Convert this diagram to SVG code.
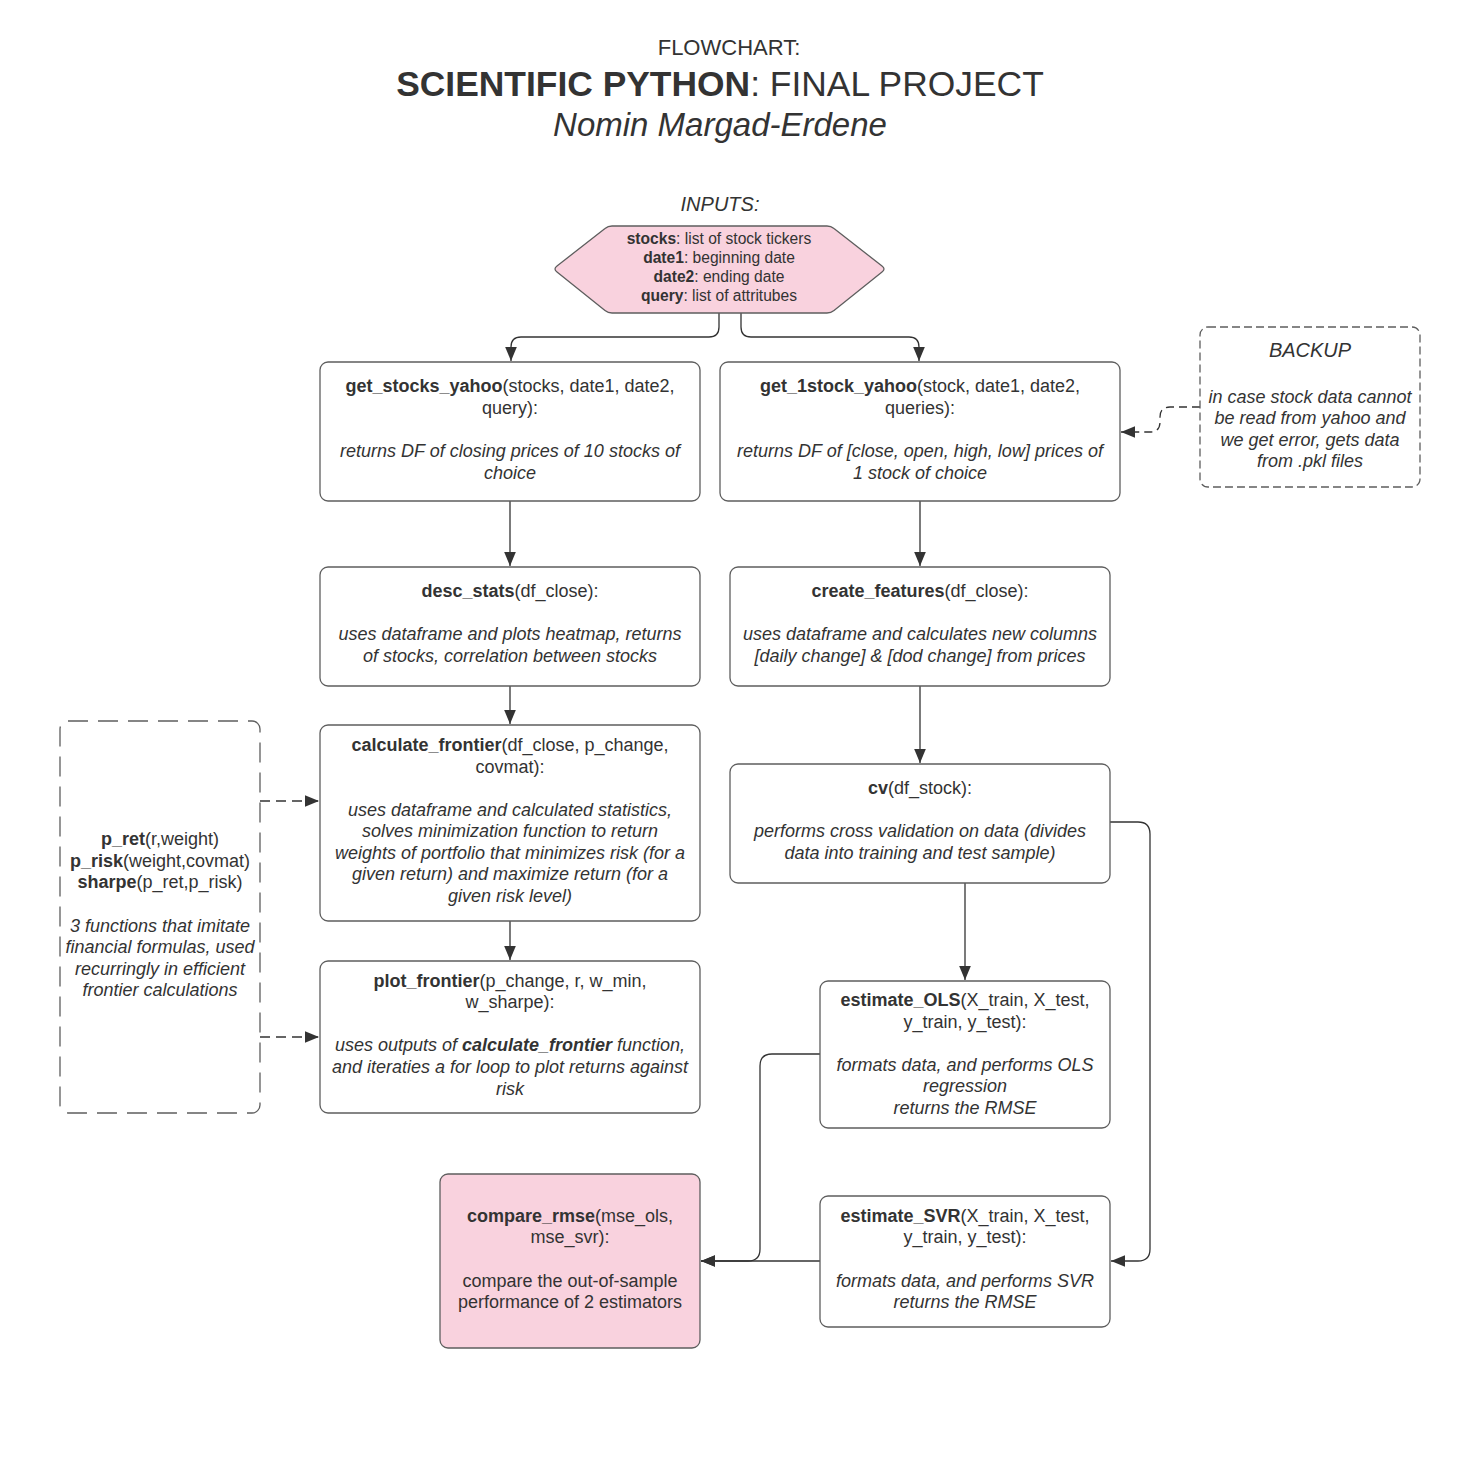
<svg xmlns="http://www.w3.org/2000/svg" width="1458" height="1474" viewBox="0 0 1458 1474">
<style>
text{font-family:"Liberation Sans",Arial,sans-serif;fill:#333333;text-anchor:middle}
.t{font-size:18px}
.h{font-size:15.6px}
.b{font-weight:bold}
.i{font-style:italic}
.box{fill:#ffffff;stroke:#5e5e5e;stroke-width:1.3}
.pink{fill:#f9d2de;stroke:#5e5e5e;stroke-width:1.3}
.dbox{fill:none;stroke:#5e5e5e;stroke-width:1.3;stroke-dasharray:8 4}
.dbox2{fill:none;stroke:#5e5e5e;stroke-width:1.3;stroke-dasharray:20 10}
.c{fill:none;stroke:#333333;stroke-width:1.3}
.dc{fill:none;stroke:#333333;stroke-width:1.3;stroke-dasharray:8 5}
.dc2{fill:none;stroke:#333333;stroke-width:1.3;stroke-dasharray:10 6}
</style>
<defs>
<marker id="ah" markerUnits="userSpaceOnUse" markerWidth="14" markerHeight="12" refX="12" refY="5" orient="auto" viewBox="0 0 12 10">
<path d="M0,0 L12,5 L0,10 Z" fill="#333333"/>
</marker>
</defs>
<rect width="1458" height="1474" fill="#ffffff"/>

<g id="title">
<text x="729" y="55" style="font-size:22px">FLOWCHART:</text>
<text x="720" y="96" style="font-size:35.4px"><tspan class="b">SCIENTIFIC PYTHON</tspan>: FINAL PROJECT</text>
<text x="720" y="136" class="i" style="font-size:33px">Nomin Margad-Erdene</text>
<text x="720" y="211" class="i" style="font-size:20px">INPUTS:</text>
</g>

<g id="connectors">
<path class="c" d="M719,313 V327 Q719,337 709,337 H521 Q511,337 511,347 V361" marker-end="url(#ah)"/>
<path class="c" d="M741,313 V327 Q741,337 751,337 H909 Q919,337 919,347 V361" marker-end="url(#ah)"/>
<path class="dc" d="M1200,407 H1170 Q1160,407 1160,417 V422 Q1160,432 1150,432 H1121" marker-end="url(#ah)"/>
<path class="c" d="M510,501 V566" marker-end="url(#ah)"/>
<path class="c" d="M920,501 V566" marker-end="url(#ah)"/>
<path class="c" d="M510,686 V724" marker-end="url(#ah)"/>
<path class="c" d="M920,686 V763" marker-end="url(#ah)"/>
<path class="c" d="M510,921 V960" marker-end="url(#ah)"/>
<path class="dc2" d="M260,801 H319" marker-end="url(#ah)"/>
<path class="dc2" d="M260,1037 H319" marker-end="url(#ah)"/>
<path class="c" d="M965,883 V980" marker-end="url(#ah)"/>
<path class="c" d="M1110,822 H1138 Q1150,822 1150,834 V1249 Q1150,1261 1138,1261 H1111" marker-end="url(#ah)"/>
<path class="c" d="M820,1054 H772 Q760,1054 760,1066 V1249 Q760,1261 748,1261 H701" marker-end="url(#ah)"/>
<path class="c" d="M820,1261 H701" marker-end="url(#ah)"/>
</g>

<g id="inputs">
<path class="pink" d="M612,226 H827 Q831,226 834,228.5 L882,266 Q886,269 882,272 L834,310.5 Q831,313 827,313 H612 Q608,313 605,310.5 L557,272 Q553,269 557,266 L605,228.5 Q608,226 612,226 Z"/>
<text class="h" x="719" y="244"><tspan class="b">stocks</tspan>: list of stock tickers</text>
<text class="h" x="719" y="263"><tspan class="b">date1</tspan>: beginning date</text>
<text class="h" x="719" y="282"><tspan class="b">date2</tspan>: ending date</text>
<text class="h" x="719" y="301"><tspan class="b">query</tspan>: list of attritubes</text>
</g>

<g id="get_stocks_yahoo">
<rect class="box" x="320" y="362" width="380" height="139" rx="8"/>
<text class="t" x="510" y="392"><tspan class="b">get_stocks_yahoo</tspan>(stocks, date1, date2,</text>
<text class="t" x="510" y="414">query):</text>
<text class="t i" x="510" y="457">returns DF of closing prices of 10 stocks of</text>
<text class="t i" x="510" y="479">choice</text>
</g>

<g id="get_1stock_yahoo">
<rect class="box" x="720" y="362" width="400" height="139" rx="8"/>
<text class="t" x="920" y="392"><tspan class="b">get_1stock_yahoo</tspan>(stock, date1, date2,</text>
<text class="t" x="920" y="414">queries):</text>
<text class="t i" x="920" y="457">returns DF of [close, open, high, low] prices of</text>
<text class="t i" x="920" y="479">1 stock of choice</text>
</g>

<g id="backup">
<rect class="dbox" x="1200" y="327" width="220" height="160" rx="8"/>
<text class="i" x="1310" y="357" style="font-size:20px">BACKUP</text>
<text class="t i" x="1310" y="403">in case stock data cannot</text>
<text class="t i" x="1310" y="424">be read from yahoo and</text>
<text class="t i" x="1310" y="446">we get error, gets data</text>
<text class="t i" x="1310" y="467">from .pkl files</text>
</g>

<g id="desc_stats">
<rect class="box" x="320" y="567" width="380" height="119" rx="8"/>
<text class="t" x="510" y="597"><tspan class="b">desc_stats</tspan>(df_close):</text>
<text class="t i" x="510" y="640">uses dataframe and plots heatmap, returns</text>
<text class="t i" x="510" y="662">of stocks, correlation between stocks</text>
</g>

<g id="create_features">
<rect class="box" x="730" y="567" width="380" height="119" rx="8"/>
<text class="t" x="920" y="597"><tspan class="b">create_features</tspan>(df_close):</text>
<text class="t i" x="920" y="640">uses dataframe and calculates new columns</text>
<text class="t i" x="920" y="662">[daily change] &amp; [dod change] from prices</text>
</g>

<g id="calculate_frontier">
<rect class="box" x="320" y="725" width="380" height="196" rx="8"/>
<text class="t" x="510" y="751"><tspan class="b">calculate_frontier</tspan>(df_close, p_change,</text>
<text class="t" x="510" y="773">covmat):</text>
<text class="t i" x="510" y="816">uses dataframe and calculated statistics,</text>
<text class="t i" x="510" y="837">solves minimization function to return</text>
<text class="t i" x="510" y="859">weights of portfolio that minimizes risk (for a</text>
<text class="t i" x="510" y="880">given return) and maximize return (for a</text>
<text class="t i" x="510" y="902">given risk level)</text>
</g>

<g id="helpers">
<rect class="dbox2" x="60" y="721" width="200" height="392" rx="8"/>
<text class="t" x="160" y="845"><tspan class="b">p_ret</tspan>(r,weight)</text>
<text class="t" x="160" y="867"><tspan class="b">p_risk</tspan>(weight,covmat)</text>
<text class="t" x="160" y="888"><tspan class="b">sharpe</tspan>(p_ret,p_risk)</text>
<text class="t i" x="160" y="932">3 functions that imitate</text>
<text class="t i" x="160" y="953">financial formulas, used</text>
<text class="t i" x="160" y="975">recurringly in efficient</text>
<text class="t i" x="160" y="996">frontier calculations</text>
</g>

<g id="cv">
<rect class="box" x="730" y="764" width="380" height="119" rx="8"/>
<text class="t" x="920" y="794"><tspan class="b">cv</tspan>(df_stock):</text>
<text class="t i" x="920" y="837">performs cross validation on data (divides</text>
<text class="t i" x="920" y="859">data into training and test sample)</text>
</g>

<g id="plot_frontier">
<rect class="box" x="320" y="961" width="380" height="152" rx="8"/>
<text class="t" x="510" y="987"><tspan class="b">plot_frontier</tspan>(p_change, r, w_min,</text>
<text class="t" x="510" y="1008">w_sharpe):</text>
<text class="t i" x="510" y="1051">uses outputs of <tspan class="b">calculate_frontier</tspan> function,</text>
<text class="t i" x="510" y="1073">and iteraties a for loop to plot returns against</text>
<text class="t i" x="510" y="1095">risk</text>
</g>

<g id="estimate_OLS">
<rect class="box" x="820" y="981" width="290" height="147" rx="8"/>
<text class="t" x="965" y="1006"><tspan class="b">estimate_OLS</tspan>(X_train, X_test,</text>
<text class="t" x="965" y="1028">y_train, y_test):</text>
<text class="t i" x="965" y="1071">formats data, and performs OLS</text>
<text class="t i" x="965" y="1092">regression</text>
<text class="t i" x="965" y="1114">returns the RMSE</text>
</g>

<g id="estimate_SVR">
<rect class="box" x="820" y="1196" width="290" height="131" rx="8"/>
<text class="t" x="965" y="1222"><tspan class="b">estimate_SVR</tspan>(X_train, X_test,</text>
<text class="t" x="965" y="1243">y_train, y_test):</text>
<text class="t i" x="965" y="1287">formats data, and performs SVR</text>
<text class="t i" x="965" y="1308">returns the RMSE</text>
</g>

<g id="compare_rmse">
<rect class="pink" x="440" y="1174" width="260" height="174" rx="8"/>
<text class="t" x="570" y="1222"><tspan class="b">compare_rmse</tspan>(mse_ols,</text>
<text class="t" x="570" y="1243">mse_svr):</text>
<text class="t" x="570" y="1287">compare the out-of-sample</text>
<text class="t" x="570" y="1308">performance of 2 estimators</text>
</g>
</svg>
